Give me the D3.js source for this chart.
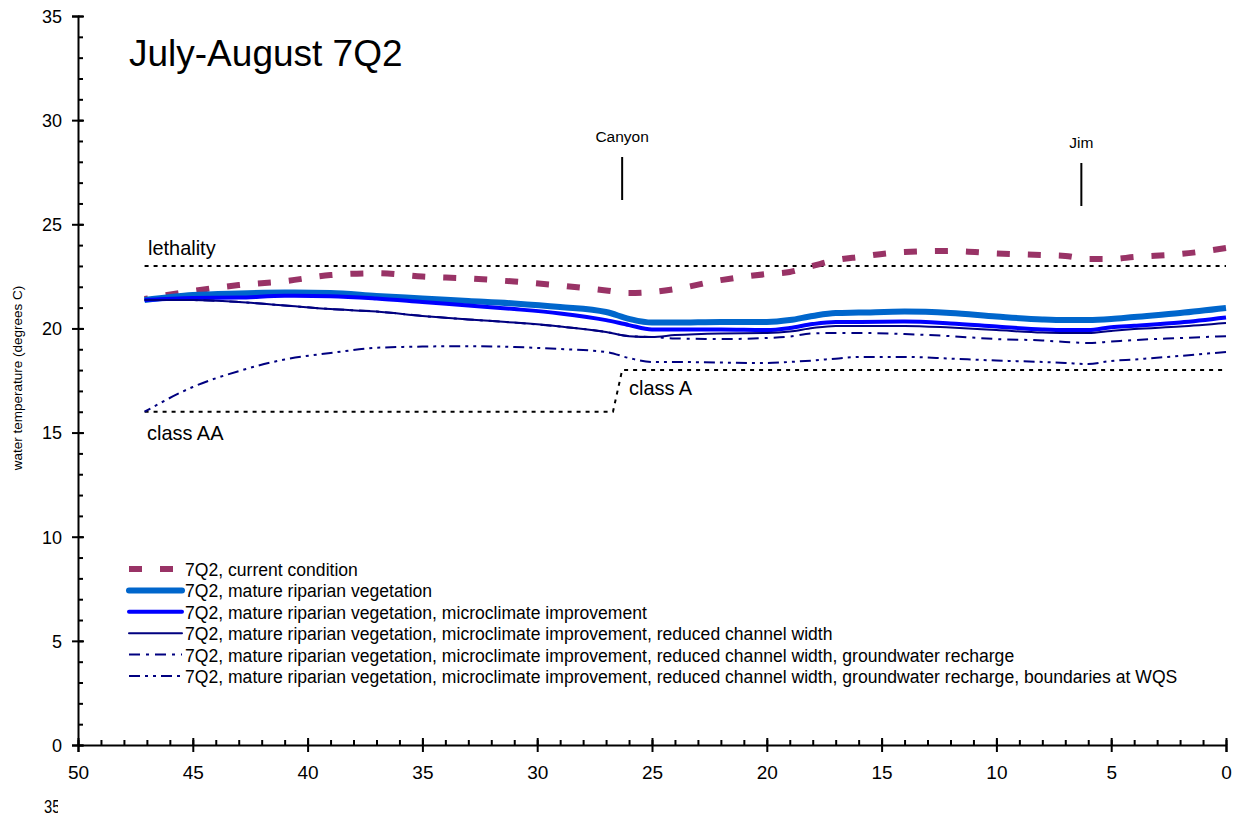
<!DOCTYPE html>
<html>
<head>
<meta charset="utf-8">
<script src="https://cdn.jsdelivr.net/npm/d3@7"></script>
<style>
  body { margin: 0; background: #fff; }
  svg { display: block; }
  .narrow { font-family: "Liberation Sans Narrow", "Arial Narrow", "Liberation Sans", sans-serif; }
</style>
</head>
<body>
<script>
// page size
var w = 1238;
var h = 814;

// river mile stations
var miles = [47.1, 45, 43, 41, 39, 37, 35, 33, 31, 29, 27, 26, 25, 24, 22, 20, 19, 18, 17, 16, 14, 12, 10, 8, 7, 6, 5, 4, 2, 0];

var currentCond = [21.41, 21.80, 22.08, 22.27, 22.56, 22.65, 22.49, 22.40, 22.25, 22.06, 21.82, 21.70, 21.75, 21.89, 22.32, 22.61, 22.71, 23.00, 23.28, 23.43, 23.67, 23.72, 23.60, 23.52, 23.48, 23.33, 23.33, 23.43, 23.57, 23.86];
var matureVeg = [21.36, 21.60, 21.68, 21.72, 21.70, 21.56, 21.44, 21.32, 21.20, 21.03, 20.79, 20.46, 20.28, 20.28, 20.31, 20.31, 20.40, 20.60, 20.74, 20.76, 20.81, 20.74, 20.57, 20.43, 20.40, 20.40, 20.45, 20.55, 20.74, 20.98];
var microclimate = [21.36, 21.46, 21.48, 21.57, 21.55, 21.44, 21.27, 21.10, 20.93, 20.72, 20.40, 20.16, 19.95, 19.95, 19.95, 19.92, 20.02, 20.21, 20.31, 20.31, 20.33, 20.24, 20.09, 19.95, 19.92, 19.92, 20.06, 20.13, 20.28, 20.52];
var channelWidth = [21.36, 21.36, 21.27, 21.10, 20.93, 20.81, 20.60, 20.43, 20.28, 20.09, 19.83, 19.63, 19.59, 19.68, 19.76, 19.78, 19.85, 20.02, 20.12, 20.12, 20.12, 20.04, 19.92, 19.80, 19.78, 19.78, 19.88, 19.97, 20.09, 20.26];
var groundwater = [21.36, 21.36, 21.27, 21.10, 20.93, 20.81, 20.60, 20.43, 20.28, 20.09, 19.83, 19.63, 19.59, 19.52, 19.49, 19.54, 19.61, 19.76, 19.78, 19.78, 19.73, 19.63, 19.49, 19.42, 19.35, 19.30, 19.37, 19.44, 19.54, 19.63];
var boundariesWQS = [16.00, 17.19, 17.95, 18.51, 18.82, 19.07, 19.13, 19.15, 19.11, 19.01, 18.87, 18.58, 18.39, 18.39, 18.36, 18.34, 18.39, 18.46, 18.55, 18.63, 18.63, 18.55, 18.46, 18.39, 18.34, 18.29, 18.44, 18.51, 18.68, 18.87];

var seriesNames = [
  "7Q2, current condition",
  "7Q2, mature riparian vegetation",
  "7Q2, mature riparian vegetation, microclimate improvement",
  "7Q2, mature riparian vegetation, microclimate improvement, reduced channel width",
  "7Q2, mature riparian vegetation, microclimate improvement, reduced channel width, groundwater recharge",
  "7Q2, mature riparian vegetation, microclimate improvement, reduced channel width, groundwater recharge, boundaries at WQS"
];

// standards (mile, temp)
var lethalityMiles = [47.1, 0];
var lethalityTemps = [23, 23];
var classMiles = [47.1, 26.7, 26.3, 0];
var classTemps = [16, 16, 18, 18];

// tributaries
var tribNames = ["Canyon", "Jim"];
var tribMiles = [26.3, 6.3];

var xTicks = [50, 45, 40, 35, 30, 25, 20, 15, 10, 5, 0];
var yTicks = [0, 5, 10, 15, 20, 25, 30, 35];

var styles = [
  { color: "#993366", width: 6, dash: "13,18" },
  { color: "#0066cc", width: 6, dash: null },
  { color: "#0000ff", width: 4, dash: null },
  { color: "#000080", width: 2, dash: null },
  { color: "#000080", width: 2, dash: "11,6,3,6" },
  { color: "#000080", width: 2, dash: "11,5,3,5,3,5" }
];

var svg = d3.select("body")
    .append("svg")
    .attr("width", w)
    .attr("height", h);

var x = d3.scaleLinear().domain([50, 0]).range([78, 1226]);
var y = d3.scaleLinear().domain([0, 35]).range([745, 16]);

// squeezed text, the original uses a narrow face
function narrowText(parent, tx, ty, size, sx, str) {
  return parent.append("text")
      .attr("class", "narrow")
      .attr("transform", "translate(" + tx + "," + ty + ") scale(" + sx + ",1)")
      .attr("font-size", size)
      .text(str);
}

// y axis
var yAxis = svg.append("g")
    .attr("transform", "translate(78,0)")
    .call(d3.axisLeft(y).tickValues(yTicks).tickSize(6).tickFormat(d3.format("d")));
yAxis.selectAll(".tick line").attr("x2", 6).attr("x1", -6);
svg.append("g")
    .attr("transform", "translate(78,0)")
    .call(d3.axisRight(y).tickValues(d3.range(0, 36, 1)).tickSize(5).tickFormat(""))
    .select(".domain").remove();

// x axis
var xAxis = svg.append("g")
    .attr("transform", "translate(0,745)")
    .call(d3.axisBottom(x).tickValues(xTicks).tickSize(7).tickFormat(d3.format("d")));
xAxis.selectAll(".tick line").attr("y1", -7);
svg.append("g")
    .attr("transform", "translate(0,745)")
    .call(d3.axisTop(x).tickValues(d3.range(0, 51, 1)).tickSize(5).tickFormat(""))
    .select(".domain").remove();

svg.selectAll(".domain").attr("stroke", "#000").attr("stroke-width", 2);
svg.selectAll(".tick line").attr("stroke", "#000").attr("stroke-width", 2);

yAxis.selectAll(".tick text")
    .attr("class", "narrow")
    .attr("x", -16)
    .attr("dy", "0.35em")
    .attr("font-size", 18)
    .attr("fill", "#000");
xAxis.selectAll(".tick text")
    .attr("class", "narrow")
    .attr("y", 34)
    .attr("dy", 0)
    .attr("font-size", 19)
    .attr("fill", "#000");

svg.append("text")
    .attr("transform", "translate(22,378) rotate(-90)")
    .attr("text-anchor", "middle")
    .attr("font-family", "Liberation Sans, Arial, sans-serif")
    .attr("font-size", 13.5)
    .text("water temperature (degrees C)");

// title
svg.append("text")
    .attr("x", 129)
    .attr("y", 66)
    .attr("font-family", "Liberation Sans, Arial, sans-serif")
    .attr("font-size", 37)
    .text("July-August 7Q2");

// standard lines
var line = d3.line()
    .x(function(d) { return x(d[0]); })
    .y(function(d) { return y(d[1]); });

svg.append("path")
    .attr("d", line(d3.zip(lethalityMiles, lethalityTemps)))
    .attr("fill", "none").attr("stroke", "#000").attr("stroke-width", 2)
    .attr("stroke-dasharray", "4,5");
svg.append("path")
    .attr("d", line(d3.zip(classMiles, classTemps)))
    .attr("fill", "none").attr("stroke", "#000").attr("stroke-width", 2)
    .attr("stroke-dasharray", "4,5");

narrowText(svg, 148, 255, 21, 0.95, "lethality");
narrowText(svg, 147, 440, 21, 0.95, "class AA");
narrowText(svg, 629, 395, 21, 0.95, "class A");

// tributary markers
tribNames.forEach(function(name, i) {
  var tx = x(tribMiles[i]);
  var top = i === 0 ? 157 : 163;
  svg.append("line")
      .attr("x1", tx).attr("x2", tx)
      .attr("y1", top).attr("y2", top + 43)
      .attr("stroke", "#000").attr("stroke-width", 2);
  svg.append("text")
      .attr("x", tx).attr("y", top - 15)
      .attr("text-anchor", "middle")
      .attr("font-family", "Liberation Sans, Arial, sans-serif")
      .attr("font-size", 15.5)
      .text(name);
});

// series
var curve = d3.line()
    .curve(d3.curveMonotoneX)
    .x(function(d) { return x(d[0]); })
    .y(function(d) { return y(d[1]); });

var allSeries = [currentCond, matureVeg, microclimate, channelWidth, groundwater, boundariesWQS];

allSeries.forEach(function(vals, i) {
  var s = styles[i];
  var pts = miles.map(function(m, j) { return [m, vals[j]]; }).reverse();
  svg.append("path")
      .attr("d", curve(pts))
      .attr("fill", "none")
      .attr("stroke", s.color)
      .attr("stroke-width", s.width)
      .attr("stroke-dasharray", s.dash)
      .attr("stroke-linejoin", "round");
});

// legend
var legend = svg.append("g");
seriesNames.forEach(function(name, i) {
  var s = styles[i];
  var ly = 569 + i * 21.4;
  legend.append("line")
      .attr("x1", 129).attr("x2", 182)
      .attr("y1", ly).attr("y2", ly)
      .attr("stroke", s.color)
      .attr("stroke-width", s.width)
      .attr("stroke-linecap", s.dash ? "butt" : "round")
      .attr("stroke-dasharray", s.dash);
  narrowText(legend, 185, ly + 7, 19, 0.925, name);
});

// stray clipped label at the bottom left
svg.append("clipPath").attr("id", "cut")
    .append("rect").attr("x", 0).attr("y", 780).attr("width", 58).attr("height", 34);
var strayGroup = svg.append("g").attr("clip-path", "url(#cut)");
narrowText(strayGroup, 44, 813, 18, 0.82, "35");
</script>
</body>
</html>
